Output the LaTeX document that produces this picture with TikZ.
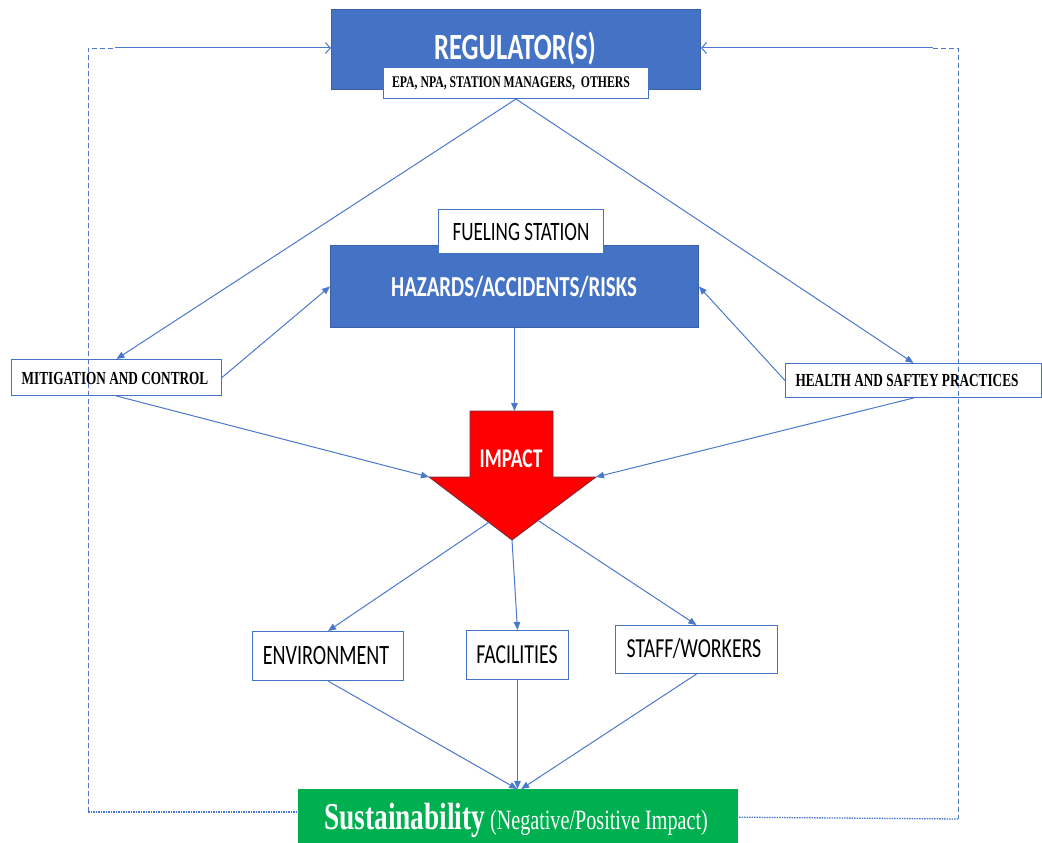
\documentclass[tikz,border=0pt]{standalone}
\usepackage{fontspec}
\setmainfont{Liberation Serif}
\newfontfamily\calf[FakeStretch=0.72]{Carlito}
\newfontfamily\tnrf[FakeStretch=0.72]{Liberation Serif}
\usetikzlibrary{arrows.meta,calc}
\definecolor{accblue}{HTML}{4472C4}
\definecolor{linkblue}{HTML}{4A78CC}
\definecolor{susgreen}{HTML}{00B050}
\definecolor{impred}{HTML}{FF0000}
\definecolor{impedge}{HTML}{6E3040}
\begin{document}
\begin{tikzpicture}[x=1pt,y=-1pt,
  bluebox/.style={draw=accblue!85!black, fill=accblue, line width=0.9pt, inner sep=0pt, anchor=north west},
  whitebox/.style={draw=accblue, fill=white, line width=1pt, inner sep=0pt, anchor=north west},
  greenbox/.style={draw=none, fill=susgreen, inner sep=0pt, anchor=north west},
  lbl/.style={inner sep=0pt, anchor=center},
  link/.style={draw=linkblue, line width=1pt, -{Triangle[length=8pt,width=6.5pt]}},
  openlink/.style={draw=linkblue, line width=1pt, -{Straight Barb[length=5pt,width=11pt]}},
  dashline/.style={draw=linkblue, line width=0.9pt, dash pattern=on 5pt off 3pt},
  dotline/.style={draw=linkblue, line width=1.3pt, dash pattern=on 1.5pt off 1pt},
  calb/.style={font=\calf\bfseries\fontsize{#1}{#1}\selectfont},
  calr/.style={font=\calf\fontsize{#1}{#1}\selectfont},
  tnrb/.style={font=\tnrf\bfseries\fontsize{#1}{#1}\selectfont},
  tnrr/.style={font=\tnrf\fontsize{#1}{#1}\selectfont}]
\useasboundingbox (0,0) rectangle (1042,843);

% outer feedback loop corners
\coordinate (lt) at (88,48);
\coordinate (ltj) at (115,48);
\coordinate (lb) at (88,812);
\coordinate (rt) at (958,48);
\coordinate (rtj) at (933,48);
\coordinate (rb) at (958,819);

% boxes
\node[bluebox, minimum width=369, minimum height=80] (reg) at (331,9) {};
\node[bluebox, minimum width=368, minimum height=82] (haz) at (330,245) {};
\node[whitebox, minimum width=165, minimum height=44] (fuel) at (438,209) {};
\node[whitebox, minimum width=265, minimum height=31] (epa) at (383,67) {};
\node[whitebox, minimum width=210, minimum height=36] (mit) at (11,359) {};
\node[whitebox, minimum width=256, minimum height=34] (hsp) at (785,363) {};
\node[whitebox, minimum width=151, minimum height=49] (env) at (252,631) {};
\node[whitebox, minimum width=102, minimum height=49] (fac) at (466,630) {};
\node[whitebox, minimum width=162, minimum height=48] (stf) at (615,625) {};
\node[greenbox, minimum width=440, minimum height=54] (sus) at (298,789) {};

% dashed loop
\draw[dashline] (lb) -- (lt) -- (ltj);
\draw[dashline] (rtj) -- (rt) -- (rb);
\draw[dotline] (lb) -- (sus.west |- lb);
\draw[dotline] (rb) -- ($(sus.east)+(0,1)$);
\draw[openlink] (ltj) -- (reg.west |- ltj);
\draw[openlink] (rtj) -- (reg.east |- rtj);

% impact arrow
\coordinate (impTop) at (514,411);
\coordinate (impL) at (429,477);
\coordinate (impR) at (596,477);
\coordinate (impTip) at (512,540);
\draw[fill=impred, draw=impedge, line width=0.8pt]
  (470,411) -- (553,411) -- (553,477) -- (impR) -- (impTip) -- (impL) -- (470,477) -- cycle;
\coordinate (impLE) at ($(impL)!0.72!(impTip)$);
\coordinate (impRE) at ($(impR)!0.69!(impTip)$);

% labels
\node[lbl, calb=37, text=white] (regt) at (515,49) {REGULATOR(S)};
\node[lbl, tnrb=16.3] (epat) at (511,83) {EPA, NPA, STATION MANAGERS,\ \ OTHERS};
\node[lbl, calr=26.5] (fuelt) at (521,232) {FUELING STATION};
\node[lbl, calb=29, text=white] (hazt) at (514,287) {HAZARDS/ACCIDENTS/RISKS};
\node[lbl, tnrb=18.4] (mitt) at (115,378) {MITIGATION\ AND CONTROL};
\node[lbl, tnrb=18.4] (hspt) at (907,380) {HEALTH\ AND SAFTEY\ PRACTICES};
\node[lbl, calb=27, text=white] (impt) at (511,459) {IMPACT};
\node[lbl, calr=28] (envt) at (326,656) {ENVIRONMENT};
\node[lbl, calr=27.5] (fact) at (517,655) {FACILITIES};
\node[lbl, calr=27.5] (stft) at (694,649) {STAFF/WORKERS};
\node[lbl, text=white, anchor=base] (sust) at (516,829)
  {{\tnrf\bfseries\fontsize{38}{38}\selectfont Sustainability}{\tnrf\fontsize{28}{28}\selectfont\,(Negative/Positive Impact)}};

% connectors
\draw[link] (epa.south) -- (mit.north);
\draw[link] (epa.south) -- (hsp.north);
\draw[link] (mit.east) -- (haz.west);
\draw[link] (hsp.west) -- (haz.east);
\draw[link] (haz.south) -- (haz.south |- impTop);
\draw[link] (mit.south) -- (impL);
\draw[link] (hsp.south) -- (impR);
\draw[link] (impLE) -- (env.north);
\draw[link] (impTip) -- (fac.north);
\draw[link] (impRE) -- (stf.north);
\draw[link] (env.south) -- ($(sus.north)+(-1,0)$);
\draw[link] (fac.south) -- (fac.south |- sus.north);
\draw[link] (stf.south) -- ($(sus.north)+(3,0)$);
\end{tikzpicture}
\end{document}
